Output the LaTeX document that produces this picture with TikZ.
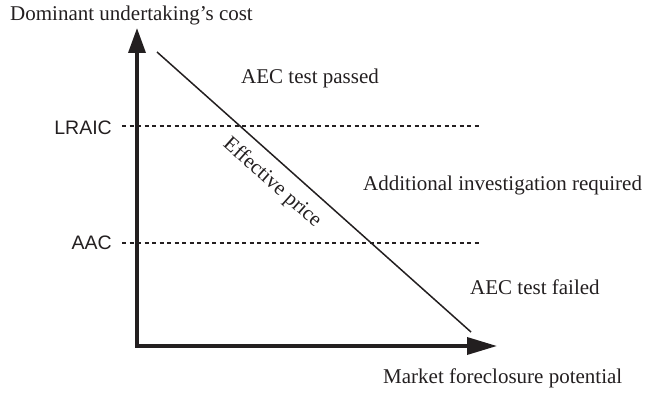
\documentclass[tikz,border=0pt]{standalone}
\usepackage{fontspec}
\setmainfont{Liberation Serif}
\newfontfamily\labelsans{Liberation Sans}
\usetikzlibrary{arrows.meta}

\definecolor{ink}{HTML}{231F20}

\tikzset{
  serifl/.style={inner sep=0pt, text=ink, font=\fontsize{21}{25}\selectfont},
  sansl/.style={inner sep=0pt, text=ink, font=\labelsans\fontsize{19.5}{23}\selectfont},
  axisline/.style={draw=ink, line width=3.5pt, line join=miter},
  levelline/.style={draw=ink, line width=1.5pt, dash pattern=on 4pt off 3.5pt},
  priceline/.style={draw=ink, line width=1.5pt}
}

\begin{document}
\begin{tikzpicture}[x=1pt, y=-1pt]
  \useasboundingbox (0,0) rectangle (650,393);

  % axes
  \coordinate (origin) at (137,346);
  \coordinate (ytip) at (137,28);
  \coordinate (xtip) at (497,346);
  \draw[axisline, {Triangle[length=25pt,width=17pt]}-{Triangle[length=30pt,width=17pt]}]
    (ytip) -- (origin) -- (xtip);

  % cost levels
  \coordinate (lraicL) at (122,126);
  \coordinate (lraicR) at (480,126);
  \coordinate (aacL) at (122,243);
  \coordinate (aacR) at (480,243);
  \draw[levelline] (lraicL) -- (lraicR);
  \draw[levelline] (aacL) -- (aacR);

  % effective price
  \coordinate (pstart) at (157,52);
  \coordinate (pend) at (471,332);
  \draw[priceline] (pstart) -- (pend);
  \node[serifl, rotate=-41.7] (plabel) at (272,183) {Effective price};

  % labels
  \node[sansl, anchor=base east] (lraic) at (112,135) {LRAIC};
  \node[sansl, anchor=base east] (aac) at (112,249) {AAC};
  \node[serifl, anchor=base west] (ylabel) at (10,21) {Dominant undertaking's cost};
  \node[serifl, anchor=base west] (xlabel) at (383,383) {Market foreclosure potential};
  \node[serifl, anchor=base west] (passed) at (241,84) {AEC test passed};
  \node[serifl, anchor=base west] (investigate) at (363,190) {Additional investigation required};
  \node[serifl, anchor=base west] (failed) at (470,294) {AEC test failed};
\end{tikzpicture}
\end{document}
